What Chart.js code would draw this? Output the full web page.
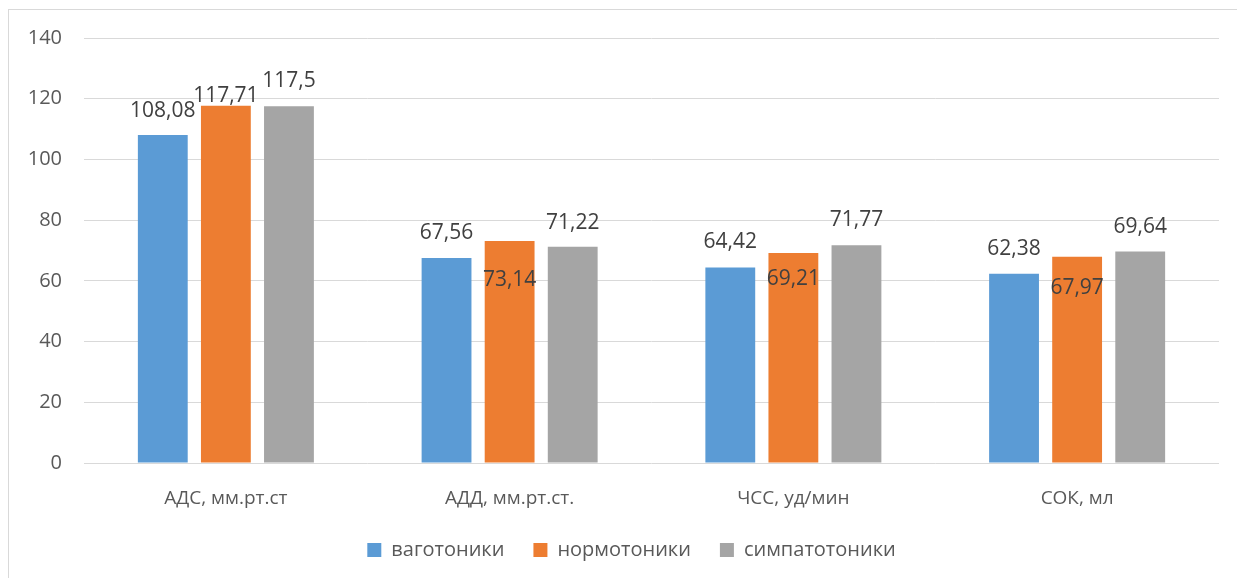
<!DOCTYPE html>
<html lang="ru">
<head>
    <meta charset="UTF-8">
    <title>Показатели гемодинамики</title>
    <script src="https://cdn.jsdelivr.net/npm/chart.js"></script>
    <style>
        html, body { margin: 0; padding: 0; overflow: hidden; background: #fff; }
        #frame {
            position: absolute; left: 8px; top: 9px;
            width: 1260px; height: 600px;
            border: 1px solid #d9d9d9;
        }
        #barChart { position: absolute; left: 0; top: 0; }
    </style>
</head>
<body>
    <div id="frame"></div>
    <canvas id="barChart" width="1237" height="578"></canvas>

    <script>
        const categories = ['АДС, мм.рт.ст', 'АДД, мм.рт.ст.', 'ЧСС, уд/мин', 'СОК, мл'];
        const vagotonics = [108.08, 67.56, 64.42, 62.38];
        const normotonics = [117.71, 73.14, 69.21, 67.97];
        const sympathotonics = [117.5, 71.22, 71.77, 69.64];
        const yTicks = [0, 20, 40, 60, 80, 100, 120, 140];

        const FONT = '"Open Sans", sans-serif';

        // vertical shift of each value label relative to the bar top (px, negative = above)
        const labelShift = [
            [-24, -25, -25, -25],
            [-10, 39, 26, 31],
            [-25, -24, -25, -25]
        ];

        const valueLabels = {
            id: 'valueLabels',
            afterDatasetsDraw(chart) {
                const ctx = chart.ctx;
                ctx.save();
                ctx.font = '21px ' + FONT;
                ctx.fillStyle = '#404040';
                ctx.textAlign = 'center';
                ctx.textBaseline = 'middle';
                chart.data.datasets.forEach((ds, i) => {
                    chart.getDatasetMeta(i).data.forEach((bar, j) => {
                        const text = String(ds.data[j]).replace('.', ',');
                        ctx.fillText(text, bar.x, bar.y + labelShift[i][j]);
                    });
                });
                ctx.restore();
            }
        };

        // nudge the legend row a bit to the right
        const legendShift = {
            id: 'legendShift',
            afterLayout(chart) {
                chart.legend.left += 22;
                chart.legend.right += 22;
            }
        };

        const ctx = document.getElementById('barChart').getContext('2d');
        const chart = new Chart(ctx, {
            type: 'bar',
            data: {
                labels: categories,
                datasets: [
                    { label: 'ваготоники', data: vagotonics, backgroundColor: '#5B9BD5' },
                    { label: 'нормотоники', data: normotonics, backgroundColor: '#ED7D31' },
                    { label: 'симпатотоники', data: sympathotonics, backgroundColor: '#A5A5A5' }
                ]
            },
            options: {
                responsive: false,
                animation: false,
                categoryPercentage: 0.667,
                barPercentage: 0.79,
                layout: { padding: { top: 38, right: 18, left: 0, bottom: 8 } },
                plugins: {
                    tooltip: { enabled: false },
                    legend: {
                        position: 'bottom',
                        labels: {
                            boxWidth: 14,
                            boxHeight: 14,
                            padding: 29,
                            color: '#595959',
                            font: { family: FONT, size: 20 }
                        }
                    }
                },
                scales: {
                    x: {
                        grid: { display: false },
                        border: { display: false },
                        ticks: { color: '#595959', padding: 16, font: { family: FONT, size: 19 } },
                        afterFit(scale) { scale.height = 48; }
                    },
                    y: {
                        min: 0,
                        max: 140,
                        afterBuildTicks(scale) { scale.ticks = yTicks.map(v => ({ value: v })); },
                        grid: { color: '#d9d9d9', lineWidth: 1, drawTicks: false },
                        border: { display: false },
                        ticks: { color: '#595959', padding: 22, font: { family: FONT, size: 20 } },
                        afterFit(scale) { scale.width = 84; }
                    }
                }
            },
            plugins: [valueLabels, legendShift]
        });
    </script>
</body>
</html>
